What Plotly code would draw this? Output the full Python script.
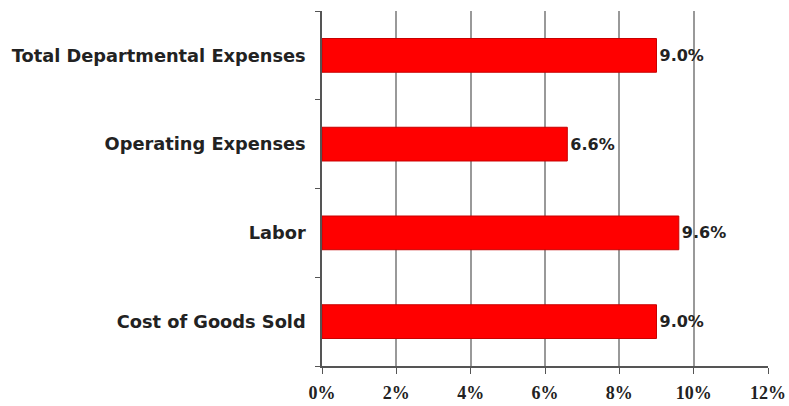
import plotly.graph_objects as go

categories = ["Cost of Goods Sold", "Labor", "Operating Expenses", "Total Departmental Expenses"]
values = [9.0, 9.6, 6.6, 9.0]
x_ticks = [0, 2, 4, 6, 8, 10, 12]
x_tick_labels = ["0%", "2%", "4%", "6%", "8%", "10%", "12%"]

fig = go.Figure(go.Bar(
    x=values, y=categories, orientation="h",
    marker=dict(color="#ff0000", line=dict(color="#c80000", width=1)),
    text=[f"{v:.1f}%" for v in values], textposition="outside",
    textfont=dict(family="DejaVu Sans", size=16, color="#222222"),
    cliponaxis=False,
))
fig.update_layout(
    width=789, height=406,
    margin=dict(l=322, r=21, t=11, b=40),
    plot_bgcolor="white", paper_bgcolor="white",
    bargap=0.62, showlegend=False,
    font=dict(family="DejaVu Sans", size=14, color="#222222"),
)
fig.update_traces(texttemplate="<b>%{text}</b>")
fig.update_xaxes(
    range=[0, 12], tickvals=x_ticks, ticktext=[f"<b>{t}</b>" for t in x_tick_labels],
    showgrid=True, gridcolor="#999999", gridwidth=1.5,
    showline=True, linecolor="#555555", linewidth=1.5,
    ticks="outside", ticklen=6, tickcolor="#555555",
    ticklabelstandoff=4,
    tickfont=dict(family="Liberation Serif", size=18, color="#222222"),
    zeroline=False, automargin=False,
)
fig.update_yaxes(
    categoryorder="array", categoryarray=categories,
    tickvals=categories, ticktext=[f"<b>{c}</b>" for c in categories],
    showline=True, linecolor="#555555", linewidth=1.5,
    ticks="outside", ticklen=5, tickcolor="#555555", tickson="boundaries",
    ticklabelstandoff=11, automargin=False,
    tickfont=dict(family="DejaVu Sans", size=17.8, color="#222222"),
)
fig.write_html("out.html")
